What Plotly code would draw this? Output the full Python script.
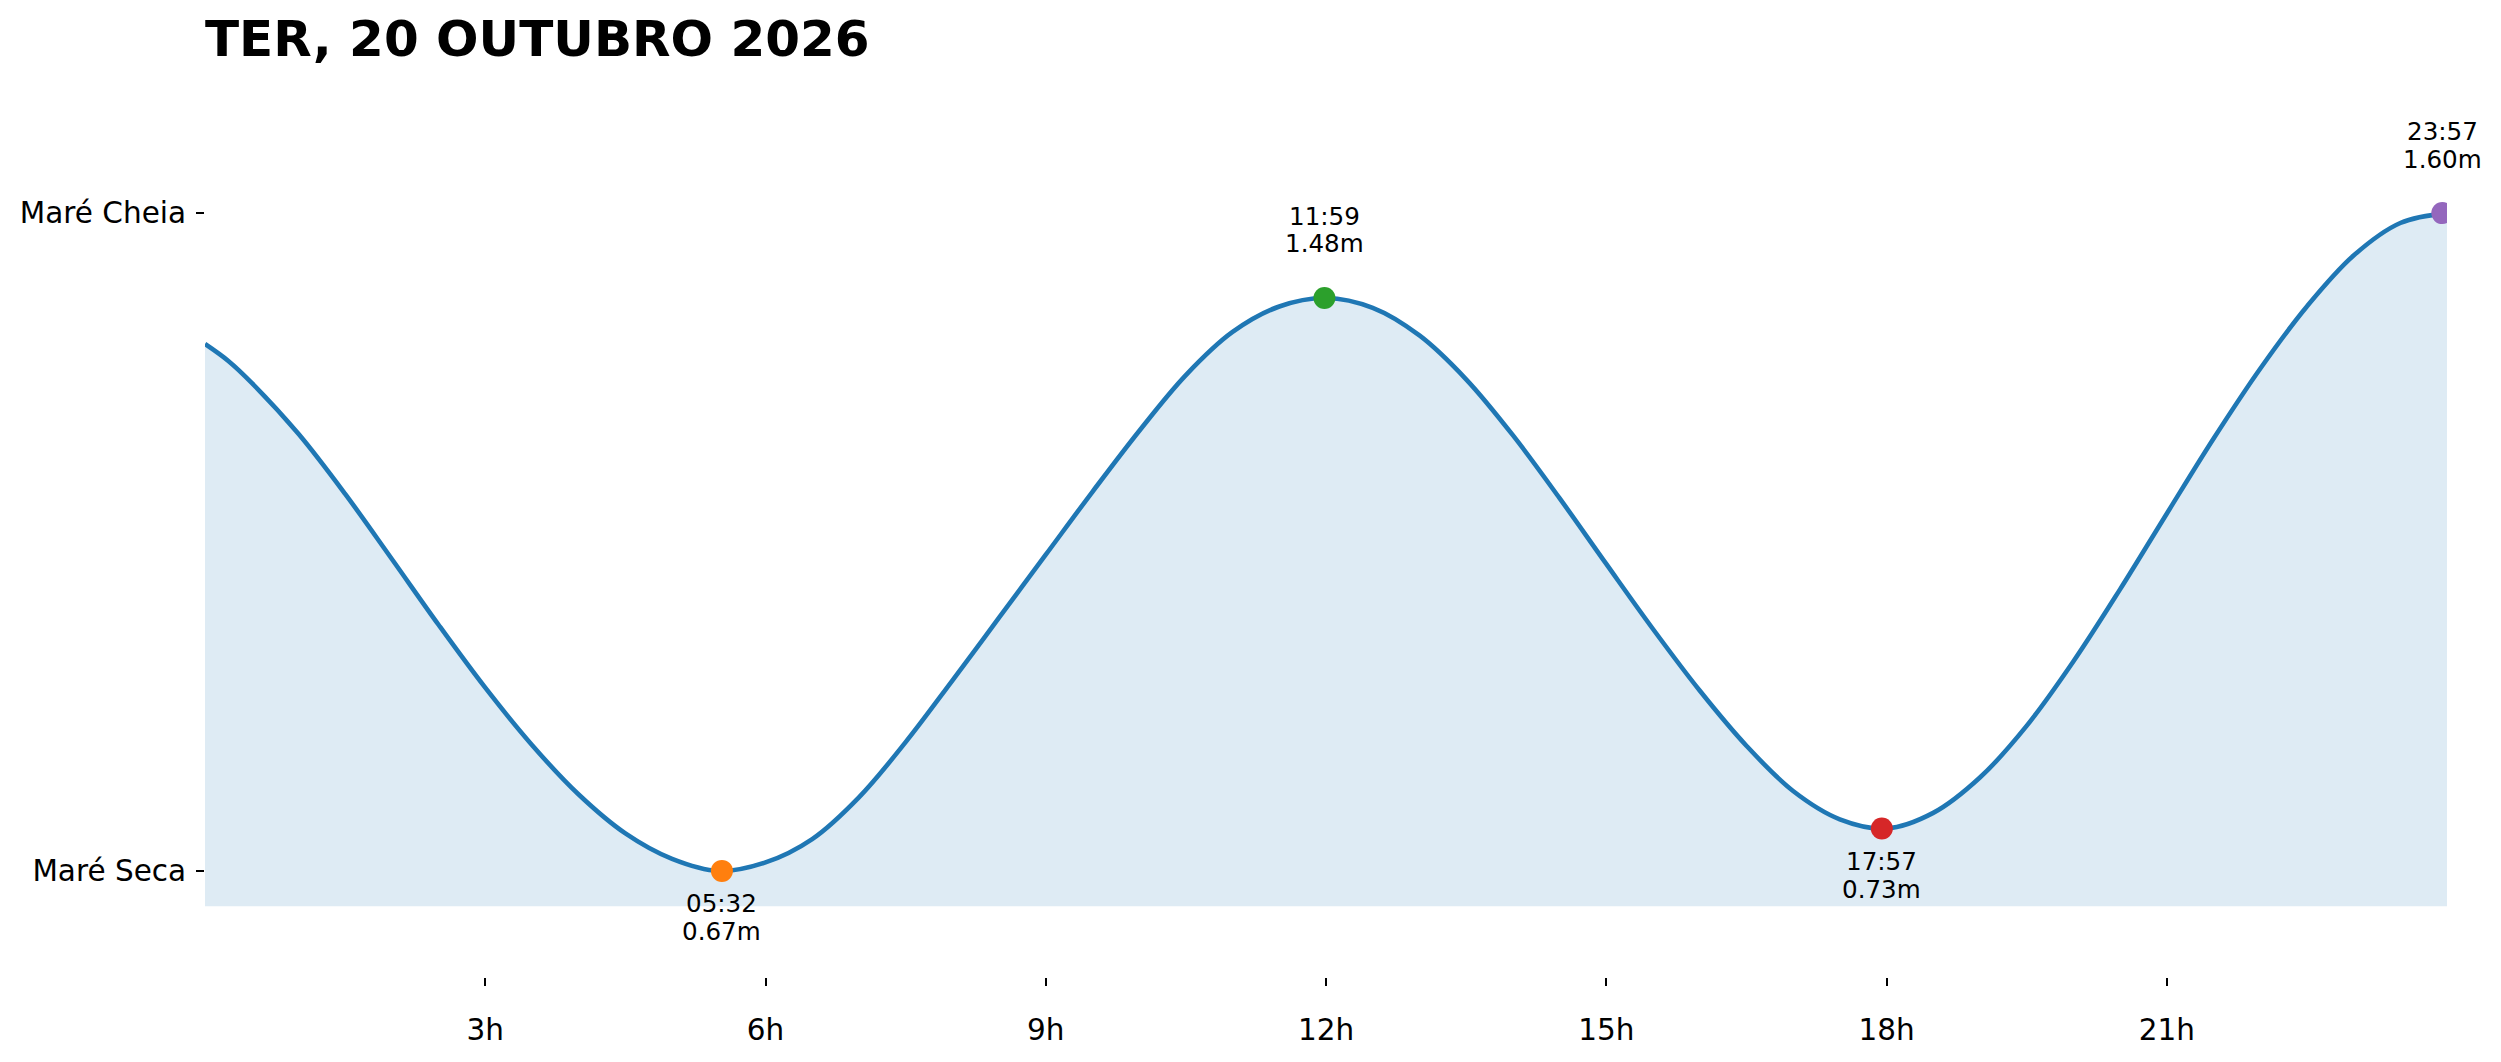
import plotly.graph_objects as go

# ---- data (tide height in metres, about every half hour) ----
curve_hours = [0.0, 0.25, 0.5, 1.0, 1.5, 2.0, 2.5, 3.0, 3.5, 4.0, 4.5, 5.0, 5.5,
               6.0, 6.5, 7.0, 7.5, 8.0, 8.5, 9.0, 9.5, 10.0, 10.5, 11.0, 11.5,
               12.0, 12.5, 13.0, 13.5, 14.0, 14.5, 15.0, 15.5, 16.0, 16.5, 17.0, 17.5,
               18.0, 18.5, 19.0, 19.5, 20.0, 20.5, 21.0, 21.5, 22.0, 22.5, 23.0, 23.5,
               24.0]
curve_heights = [1.415, 1.391, 1.360, 1.288, 1.203, 1.111, 1.018, 0.929, 0.848, 0.778, 0.723, 0.687, 0.670,
                 0.682, 0.715, 0.774, 0.852, 0.939, 1.028, 1.117, 1.206, 1.292, 1.371, 1.432, 1.468,
                 1.480, 1.466, 1.427, 1.365, 1.286, 1.197, 1.104, 1.012, 0.925, 0.847, 0.783, 0.743,
                 0.730, 0.752, 0.802, 0.875, 0.966, 1.068, 1.175, 1.281, 1.380, 1.468, 1.540, 1.586,
                 1.600]

event_times = ["05:32", "11:59", "17:57", "23:57"]
event_heights = [0.67, 1.48, 0.73, 1.60]
event_kinds = ["low", "high", "low", "high"]

x_tick_vals = [3, 6, 9, 12, 15, 18, 21]
x_tick_text = ["3h", "6h", "9h", "12h", "15h", "18h", "21h"]
y_tick_vals = [0.67, 1.60]
y_tick_text = ["Maré Seca", "Maré Cheia"]

title_text = "TER, 20 OUTUBRO 2026"
fill_base = 0.62

# ---- styles ----
FONT = "DejaVu Sans"
LINE_COLOR = "#1f77b4"
FILL_COLOR = "rgba(31,119,180,0.15)"
EVENT_COLORS = ["#ff7f0e", "#2ca02c", "#d62728", "#9467bd"]

# page body has an 8px default margin; size the figure so the plot lands where the reference has it
PAGE_OFF = 8
W, H = 2501 - PAGE_OFF, 1062 - PAGE_OFF

event_hours = [int(t[:2]) + int(t[3:]) / 60 for t in event_times]

fig = go.Figure()
fig.add_trace(go.Scatter(
    x=curve_hours, y=[fill_base] * len(curve_hours), mode="lines",
    line=dict(width=0, color="rgba(0,0,0,0)"), hoverinfo="skip", showlegend=False))
fig.add_trace(go.Scatter(
    x=curve_hours, y=curve_heights, mode="lines", fill="tonexty",
    fillcolor=FILL_COLOR, line=dict(color=LINE_COLOR, width=4.6, shape="spline", smoothing=1),
    showlegend=False))
fig.add_trace(go.Scatter(
    x=event_hours, y=event_heights, mode="markers",
    marker=dict(size=22, color=EVENT_COLORS, line=dict(width=0)),
    cliponaxis=True, showlegend=False))

for h, t, v, k in zip(event_hours, event_times, event_heights, event_kinds):
    if k == "high":
        shifts = (81.8, 54.0)
    else:
        shifts = (-32.6, -60.6)
    for txt, s in zip((t, f"{v:.2f}m"), shifts):
        fig.add_annotation(x=h, y=v, text=txt, showarrow=False, xanchor="center",
                           yanchor="middle", yshift=s,
                           font=dict(family=FONT, size=24.6, color="black"))

fig.update_layout(
    width=W, height=H,
    margin=dict(l=205 - PAGE_OFF, r=54, t=107 - PAGE_OFF, b=85),
    paper_bgcolor="white", plot_bgcolor="white",
    title=dict(text=title_text, x=0, xref="paper", xanchor="left",
               y=1 - (38.5 - PAGE_OFF) / H, yref="container", yanchor="middle",
               font=dict(family=FONT, size=50, color="black", weight="bold")),
    font=dict(family=FONT, color="black"),
)
fig.update_xaxes(range=[0, 24], tickvals=x_tick_vals, ticktext=x_tick_text,
                 ticks="outside", ticklen=8, tickwidth=2, tickcolor="black",
                 showgrid=False, zeroline=False, showline=False,
                 tickfont=dict(family=FONT, size=29.5, color="black"),
                 ticklabelstandoff=19)
fig.update_yaxes(range=[0.52, 1.75], tickvals=y_tick_vals, ticktext=y_tick_text,
                 ticks="outside", ticklen=8, tickwidth=2, tickcolor="black",
                 showgrid=False, zeroline=False, showline=False,
                 tickfont=dict(family=FONT, size=29.5, color="black"),
                 ticklabelstandoff=4)

fig.write_html("out.html", config={"displayModeBar": False})
